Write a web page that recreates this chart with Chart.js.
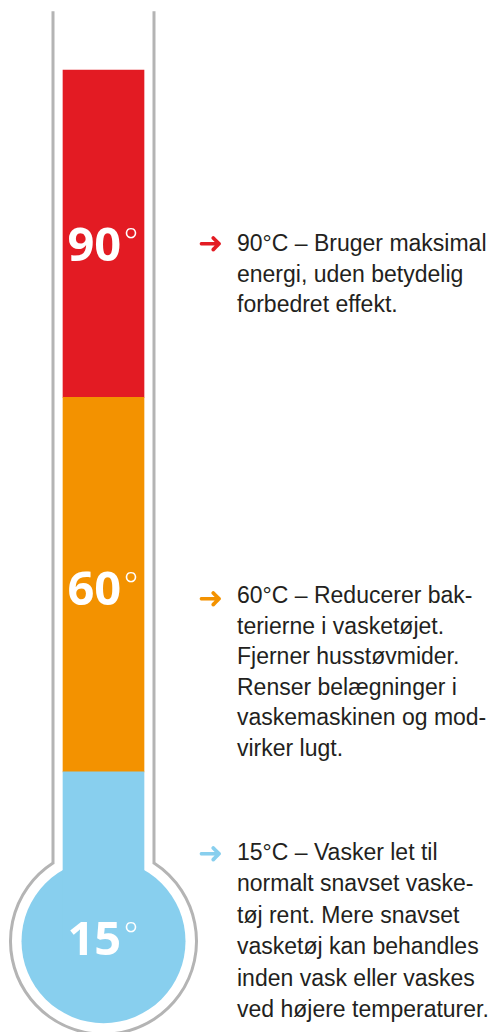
<!DOCTYPE html>
<html lang="da">
<head>
<meta charset="utf-8">
<title>Vasketemperaturer</title>
<script src="https://cdn.jsdelivr.net/npm/chart.js@4/dist/chart.umd.min.js"></script>
<style>
  html, body { margin: 0; padding: 0; background: #fff; }
  .page { position: relative; width: 489px; height: 1032px; overflow: hidden; }
  .thermo { position: absolute; left: 0; top: 0; width: 207px; height: 1032px; }
  .note {
    position: absolute; left: 237px; width: 252px;
    font-family: "Liberation Sans", Arial, sans-serif; font-size: 23px;
    color: #231f20; white-space: nowrap;
  }
  .note .arrow {
    position: absolute; left: -39px; top: 0;
    font-family: "DejaVu Sans", sans-serif; font-size: 30px;
  }
</style>
</head>
<body>
<div class="page">
  <div class="thermo"><canvas id="thermometer"></canvas></div>
  <div id="notes"></div>
</div>
<script>
// fill levels on a 0-100 scale (bottom of page = 0)
const levels = ["15°", "60°", "90°"];
const fillFrom = [8.8, 25.2, 61.5];
const fillTo = [25.2, 61.5, 93.2];
const bulbLevel = 8.8;
const tubeTop = 98.9;

const notes = [
  ["15°C – Vasker let til", "normalt snavset vaske-", "tøj rent. Mere snavset", "vasketøj kan behandles", "inden vask eller vaskes", "ved højere temperaturer."],
  ["60°C – Reducerer bak-", "terierne i vasketøjet.", "Fjerner husstøvmider.", "Renser belægninger i", "vaskemaskinen og mod-", "virker lugt."],
  ["90°C – Bruger maksimal", "energi, uden betydelig", "forbedret effekt."]
];

// styling
const colors = ["#88cfee", "#f39200", "#e31b23"];
const outline = "#b4b4b4";
const labelNudge = [-3, 3.5, 11];
const noteTop = [837, 580, 228];
const noteLine = [31.4, 30.5, 30.5];
const arrowNudge = [0, 3, 0];

// right-hand notes
const box = document.getElementById("notes");
notes.forEach((lines, i) => {
  const d = document.createElement("div");
  d.className = "note";
  d.style.top = noteTop[i] + "px";
  d.style.lineHeight = noteLine[i] + "px";
  d.innerHTML = lines.join("<br>");
  const a = document.createElement("span");
  a.className = "arrow";
  a.style.color = colors[i];
  a.style.top = arrowNudge[i] + "px";
  a.style.lineHeight = noteLine[i] + "px";
  a.textContent = "➜";
  d.appendChild(a);
  box.appendChild(d);
});

// glass outline: tube walls + bulb
const glassPlugin = {
  id: "glass",
  beforeDatasetsDraw(chart) {
    const { ctx, scales: { x, y } } = chart;
    const cx = x.getPixelForValue(0);
    const by = y.getPixelForValue(bulbLevel);
    const ty = y.getPixelForValue(tubeTop);
    const hw = 50.5, R = 93;
    const dy = Math.sqrt(R * R - hw * hw);
    ctx.save();
    ctx.strokeStyle = outline;
    ctx.lineWidth = 3;
    ctx.beginPath();
    ctx.moveTo(cx - hw, ty);
    ctx.lineTo(cx - hw, by - dy);
    ctx.arc(cx, by, R, Math.atan2(-dy, -hw), Math.atan2(-dy, hw), true);
    ctx.lineTo(cx + hw, ty);
    ctx.stroke();
    ctx.restore();
  }
};

// degree labels inside the fill
const labelPlugin = {
  id: "levelLabels",
  afterDatasetsDraw(chart) {
    const { ctx, scales: { x, y } } = chart;
    const cx = x.getPixelForValue(0);
    ctx.save();
    ctx.fillStyle = "#fff";
    levels.forEach((lab, i) => {
      const mid = i === 0
        ? y.getPixelForValue(bulbLevel)
        : (y.getPixelForValue(fillFrom[i]) + y.getPixelForValue(fillTo[i])) / 2;
      const base = mid + labelNudge[i] + 16.5;
      const num = lab.replace("°", "");
      ctx.font = "bold 47px 'Open Sans'";
      ctx.textAlign = "left";
      ctx.textBaseline = "alphabetic";
      ctx.fillText(num, cx - 36, base);
      ctx.font = "300 35px 'Open Sans'";
      ctx.fillText("°", cx + 20, base - 8);
    });
    ctx.restore();
  }
};

const barSets = levels.map((lab, i) => ({
  type: "bar",
  label: lab,
  data: [[fillFrom[i], fillTo[i]]],
  backgroundColor: colors[i],
  borderWidth: 0,
  barThickness: 81
}));

new Chart(document.getElementById("thermometer"), {
  data: {
    labels: ["termometer"],
    datasets: [
      ...barSets,
      {
        type: "line",
        label: "bulb",
        data: [bulbLevel],
        showLine: false,
        pointRadius: 82,
        pointHoverRadius: 82,
        pointBackgroundColor: colors[0],
        pointBorderWidth: 0,
        clip: false
      }
    ]
  },
  options: {
    responsive: true,
    maintainAspectRatio: false,
    animation: false,
    layout: { padding: 0, autoPadding: false },
    plugins: { legend: { display: false }, tooltip: { enabled: false } },
    scales: {
      x: { stacked: true, display: false },
      y: { min: 0, max: 100, display: false }
    }
  },
  plugins: [glassPlugin, labelPlugin]
});
</script>
</body>
</html>
